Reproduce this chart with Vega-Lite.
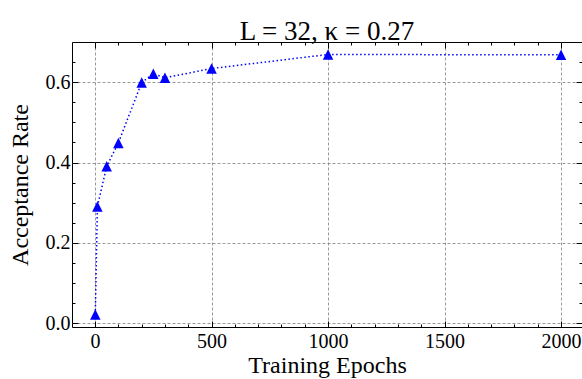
{
  "$schema": "https://vega.github.io/schema/vega-lite/v6.json",
  "width": 510,
  "height": 285,
  "autosize": {"type": "none"},
  "padding": {"left": 72, "top": 42, "right": 0, "bottom": 52},
  "background": "white",
  "title": {
    "text": "L = 32, κ = 0.27",
    "font": "Liberation Serif",
    "fontSize": 27,
    "fontWeight": "normal",
    "color": "black",
    "baseline": "alphabetic",
    "offset": -25
  },
  "data": {
    "values": [
      {"epochs": 1, "rate": 0.022},
      {"epochs": 10, "rate": 0.291},
      {"epochs": 50, "rate": 0.391},
      {"epochs": 100, "rate": 0.449},
      {"epochs": 200, "rate": 0.599},
      {"epochs": 250, "rate": 0.621},
      {"epochs": 300, "rate": 0.611},
      {"epochs": 500, "rate": 0.634},
      {"epochs": 1000, "rate": 0.669},
      {"epochs": 2000, "rate": 0.668}
    ]
  },
  "layer": [
    {
      "mark": {"type": "line", "color": "#0000ff", "strokeWidth": 1.5, "strokeDash": [1.5, 2.5]},
      "encoding": {
        "x": {
          "field": "epochs", "type": "quantitative",
          "scale": {"domain": [-99, 2090], "nice": false, "zero": false},
          "axis": {
            "orient": "bottom",
            "title": "Training Epochs",
            "values": [0, 100, 200, 300, 400, 500, 600, 700, 800, 900, 1000, 1100, 1200, 1300, 1400, 1500, 1600, 1700, 1800, 1900, 2000],
            "labelExpr": "datum.value % 500 === 0 ? datum.label : ''",
            "format": "d",
            "tickSize": {"condition": {"test": "datum.value % 500 === 0", "value": -6}, "value": -3},
            "gridOpacity": {"condition": {"test": "datum.value % 500 === 0", "value": 1}, "value": 0},
            "labelPadding": 10,
            "titlePadding": 2
          }
        },
        "y": {
          "field": "rate", "type": "quantitative",
          "scale": {"domain": [-0.009, 0.7], "nice": false, "zero": false},
          "axis": {
            "orient": "left",
            "title": "Acceptance Rate",
            "values": [0, 0.05, 0.1, 0.15, 0.2, 0.25, 0.3, 0.35, 0.4, 0.45, 0.5, 0.55, 0.6, 0.65],
            "labelExpr": "round(datum.value * 100) % 20 === 0 ? format(datum.value, '.1f') : ''",
            "tickSize": {"condition": {"test": "round(datum.value * 100) % 20 === 0", "value": -6}, "value": -3},
            "gridOpacity": {"condition": {"test": "round(datum.value * 100) % 20 === 0", "value": 1}, "value": 0},
            "labelPadding": 8,
            "titlePadding": 13
          }
        }
      }
    },
    {
      "mark": {"type": "point", "shape": "M0,-1L1,1L-1,1Z", "filled": true, "color": "#0000ff", "opacity": 1, "size": 110},
      "encoding": {
        "x": {
          "field": "epochs", "type": "quantitative",
          "axis": {
            "orient": "top", "title": null, "labels": false, "grid": false,
            "values": [0, 100, 200, 300, 400, 500, 600, 700, 800, 900, 1000, 1100, 1200, 1300, 1400, 1500, 1600, 1700, 1800, 1900, 2000],
            "tickSize": {"condition": {"test": "datum.value % 500 === 0", "value": -6}, "value": -3}
          }
        },
        "y": {
          "field": "rate", "type": "quantitative",
          "axis": {
            "orient": "right", "title": null, "labels": false, "grid": false,
            "values": [0, 0.05, 0.1, 0.15, 0.2, 0.25, 0.3, 0.35, 0.4, 0.45, 0.5, 0.55, 0.6, 0.65],
            "tickSize": {"condition": {"test": "round(datum.value * 100) % 20 === 0", "value": -6}, "value": -3}
          }
        }
      }
    }
  ],
  "resolve": {"axis": {"x": "independent", "y": "independent"}},
  "config": {
    "view": {"stroke": "black", "strokeWidth": 1},
    "axis": {
      "domain": false,
      "tickColor": "black",
      "tickWidth": 1,
      "gridColor": "#808080",
      "gridDash": [3, 2],
      "gridWidth": 0.8,
      "labelFont": "Liberation Serif",
      "labelFontSize": 20,
      "labelColor": "black",
      "titleFont": "Liberation Serif",
      "titleFontSize": 24,
      "titleFontWeight": "normal",
      "titleColor": "black"
    }
  }
}
